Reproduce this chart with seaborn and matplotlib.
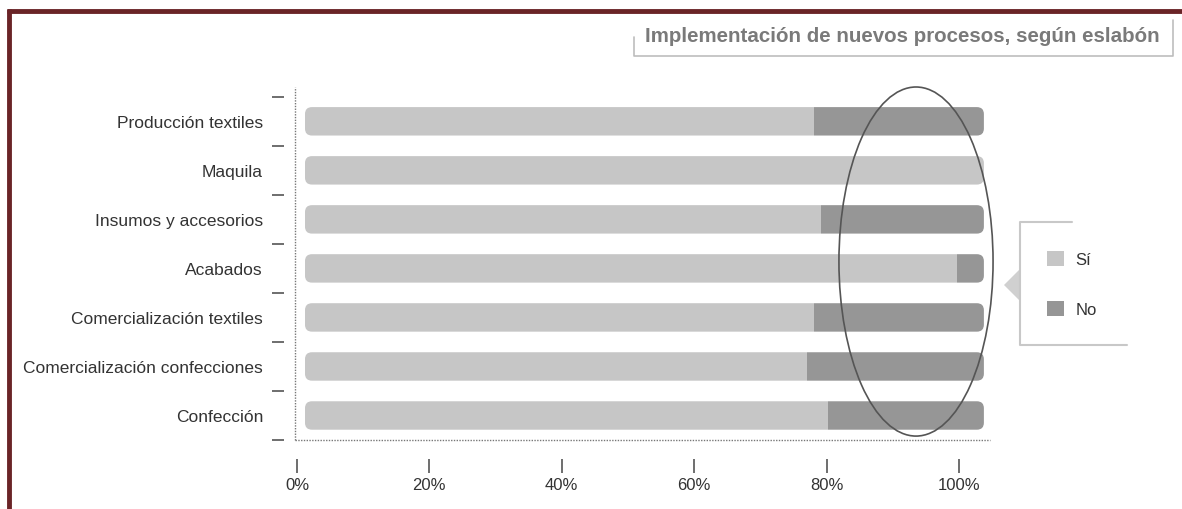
import matplotlib
matplotlib.use("Agg")
import matplotlib.pyplot as plt
from matplotlib.patches import FancyBboxPatch, Rectangle, Ellipse, Polygon, Patch
from matplotlib.lines import Line2D
import numpy as np
import pandas as pd
import seaborn as sns

# datos (porcentaje de empresas)
eslabones = ["Producción textiles", "Maquila", "Insumos y accesorios", "Acabados",
             "Comercialización textiles", "Comercialización confecciones", "Confección"]
si = [75, 100, 76, 96, 75, 74, 77]
no = [25, 0, 24, 4, 25, 26, 23]
tick_labels = ["0%", "20%", "40%", "60%", "80%", "100%"]
tick_values = [0, 20, 40, 60, 80, 100]

titulo = "Implementación de nuevos procesos, según eslabón"
c_si = "#c6c6c6"
c_no = "#969696"
c_txt = "#333333"

df = pd.DataFrame({"eslabon": eslabones, "si": si, "no": no})
df["total"] = df["si"] + df["no"]

sns.set_style("white")
plt.rcParams["font.family"] = ["Liberation Sans", "DejaVu Sans"]

W, H = 1182, 510
fig = plt.figure(figsize=(W / 100, H / 100), dpi=100)
# axes box in pixels: left 295, right 990, top 88, bottom 441
ax = fig.add_axes([295 / W, 1 - 441 / H, (990 - 295) / W, (441 - 88) / H])

sns.barplot(data=df, y="eslabon", x="total", color=c_no, width=0.58,
            orient="h", ax=ax, saturation=1)
n_tot = len(ax.patches)
sns.barplot(data=df, y="eslabon", x="si", color=c_si, width=0.58,
            orient="h", ax=ax, saturation=1)

ax.set_xlim(-1.47, 100.9)
ax.set_ylim(6.5, -0.7)

# rounded bar ends (7 px radius)
px_x = ax.bbox.width / (ax.get_xlim()[1] - ax.get_xlim()[0])
px_y = ax.bbox.height / abs(ax.get_ylim()[1] - ax.get_ylim()[0])
r = 7 / px_x
asp = px_x / px_y
pats = list(ax.patches)
tot_pats, si_pats = pats[:n_tot], pats[n_tot:]
for tp, sp in zip(tot_pats, si_pats):
    x, y, w, h = tp.get_x(), tp.get_y(), tp.get_width(), tp.get_height()
    ws = sp.get_width()
    # each colour is the full rounded bar clipped to its own segment
    for x0, x1, col in [(x + ws, x + w, c_no), (x, x + ws, c_si)]:
        if x1 <= x0:
            continue
        rb = FancyBboxPatch((x, y), w, h, boxstyle=f"round,pad=0,rounding_size={r}",
                            mutation_aspect=asp, fc=col, ec="none", zorder=3)
        ax.add_patch(rb)
        rb.set_clip_path(Rectangle((x0, y - 0.1), x1 - x0, h + 0.2, transform=ax.transData))
    tp.set_visible(False)
    sp.set_visible(False)

# axis styling: picture's axis is offset from the bars
ax.set_xticks([v * 0.975 - 1.18 for v in tick_values])
ax.set_xticklabels(tick_labels)
ax.set_xlabel("")
ax.set_ylabel("")
for s in ax.spines.values():
    s.set_visible(False)
ax.spines["bottom"].set_position(("outward", 14))
ax.spines["left"].set_position(("outward", 8))
ax.tick_params(axis="x", length=10, width=1.2, color="#555555", pad=3,
               labelsize=12, labelcolor=c_txt, direction="out", bottom=True)
ax.set_yticks(range(len(eslabones)))
ax.set_yticklabels(eslabones)
ax.tick_params(axis="y", which="major", length=0, pad=15, labelsize=12.5, labelcolor=c_txt)
ax.set_yticks(np.arange(-0.5, 7, 1), minor=True)
ax.tick_params(axis="y", which="minor", length=9, width=1.2, color="#555555", left=True)

ax.plot([0, 0], [0, 1], transform=ax.transAxes, ls=(0, (1, 1)), lw=1, color="#777777", clip_on=False)
ax.plot([0, 1], [0, 0], transform=ax.transAxes, ls=(0, (1, 1)), lw=1, color="#777777", clip_on=False)

# ellipse highlight
ax.add_patch(Ellipse((90.0, 2.86), 22.7, 7.12, fill=False, ec="#555555", lw=1.2,
                     zorder=5, clip_on=False))

# figure decoration in pixel coords
def fx(x):
    return x / W

def fy(y):
    return 1 - y / H

fig.add_artist(Line2D([fx(7), fx(W)], [fy(11.5), fy(11.5)], color="#6a2427", lw=3.5,
                      solid_capstyle="butt"))
fig.add_artist(Line2D([fx(9.5), fx(9.5)], [fy(10), fy(H)], color="#6a2427", lw=3.5,
                      solid_capstyle="butt"))

# title box
fig.add_artist(Line2D([fx(634), fx(634), fx(1173), fx(1173)],
                      [fy(38), fy(57), fy(57), fy(21)], color="#bdbdbd", lw=1.2))
fig.text(fx(902), fy(36), titulo, ha="center", va="center", fontsize=14.8,
         fontweight="bold", color="#7a7a7a",
         family=["Liberation Sans Narrow", "Liberation Sans", "DejaVu Sans"])

# legend bracket + pointer
fig.add_artist(Line2D([fx(1072), fx(1020), fx(1020), fx(1127)],
                      [fy(223), fy(223), fy(346), fy(346)], color="#c8c8c8", lw=1.5))
fig.add_artist(Polygon([(fx(1004), fy(286)), (fx(1020), fy(270)), (fx(1020), fy(302))],
                       closed=True, fc="#d0d0d0", ec="none"))
handles = [Patch(fc=c_si, ec="none", label="Sí"), Patch(fc=c_no, ec="none", label="No")]
fig.legend(handles=handles, loc="center left", bbox_to_anchor=(fx(1032), fy(285)),
           frameon=False, fontsize=12, handlelength=1.0, handleheight=1.0,
           handletextpad=0.7, labelspacing=2.0, labelcolor=c_txt)

fig.savefig("out.png", dpi=100)
